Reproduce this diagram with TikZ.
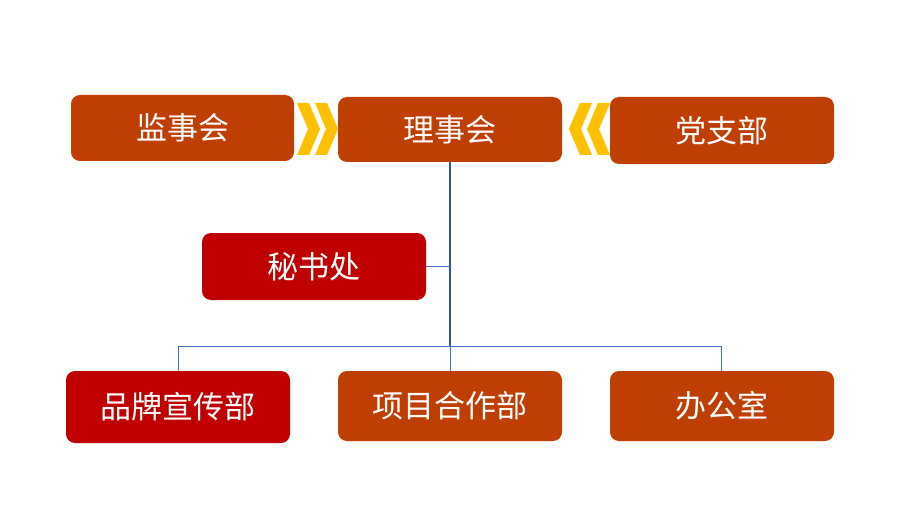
\documentclass[tikz,border=0pt]{standalone}
\usepackage{fontspec}
\newfontfamily\cjk{Noto Sans CJK SC}
\definecolor{boxorange}{RGB}{191,62,2}
\definecolor{boxred}{RGB}{192,0,0}
\definecolor{chev}{RGB}{255,192,0}
\definecolor{linkblue}{RGB}{68,114,196}
\definecolor{linkdark}{RGB}{47,85,151}
\begin{document}
\begin{tikzpicture}[x=1pt,y=-1pt,
  orgbox/.style={rectangle,rounded corners=9pt,draw=none,text=white,font=\cjk\fontsize{31}{32}\selectfont,inner sep=0pt},
  obox/.style={orgbox,fill=boxorange},
  rbox/.style={orgbox,fill=boxred},
  link/.style={draw=linkblue,line width=1pt},
  trunk/.style={draw=linkdark,line width=1.8pt},
  chevshape/.style={fill=chev,draw=none}]
\useasboundingbox (0,0) rectangle (921,524);
% boxes
\node[obox,minimum width=223pt,minimum height=66pt] (jsh) at (182.5,128) {监事会};
\node[obox,minimum width=224pt,minimum height=65pt] (lsh) at (450,129.5) {理事会};
\node[obox,minimum width=224pt,minimum height=67pt] (dzb) at (722,130.5) {党支部};
\node[rbox,minimum width=224pt,minimum height=67pt] (msc) at (314,266.5) {秘书处};
\node[rbox,minimum width=224pt,minimum height=72pt] (ppx) at (178,407) {品牌宣传部};
\node[obox,minimum width=224pt,minimum height=70pt] (xmh) at (450,406) {项目合作部};
\node[obox,minimum width=224pt,minimum height=70pt] (bgs) at (722,406) {办公室};
% connectors
\coordinate (hub) at (450,346);
\coordinate (hl) at (178,346);
\coordinate (hr) at (721,346);
\coordinate (mj) at (450,266.5);
\draw[trunk] (lsh.south) -- (hub);
\draw[link] (msc.east) -- (mj);
\draw[link] (hl) -- (hr);
\draw[link] (hl) -- (ppx.north);
\draw[link] (hub) -- (xmh.north);
\draw[link] (hr) -- (bgs.north -| hr);
% chevrons right-pointing
\foreach \x in {297,315}{
  \fill[chevshape] (\x,103) -- (\x+12,103) -- (\x+23,129) -- (\x+12,155) -- (\x,155) -- (\x+11,129) -- cycle;
}
% chevrons left-pointing
\foreach \x in {610,592}{
  \fill[chevshape] (\x,103) -- (\x-12,103) -- (\x-23,129) -- (\x-12,155) -- (\x,155) -- (\x-11,129) -- cycle;
}
\end{tikzpicture}
\end{document}
